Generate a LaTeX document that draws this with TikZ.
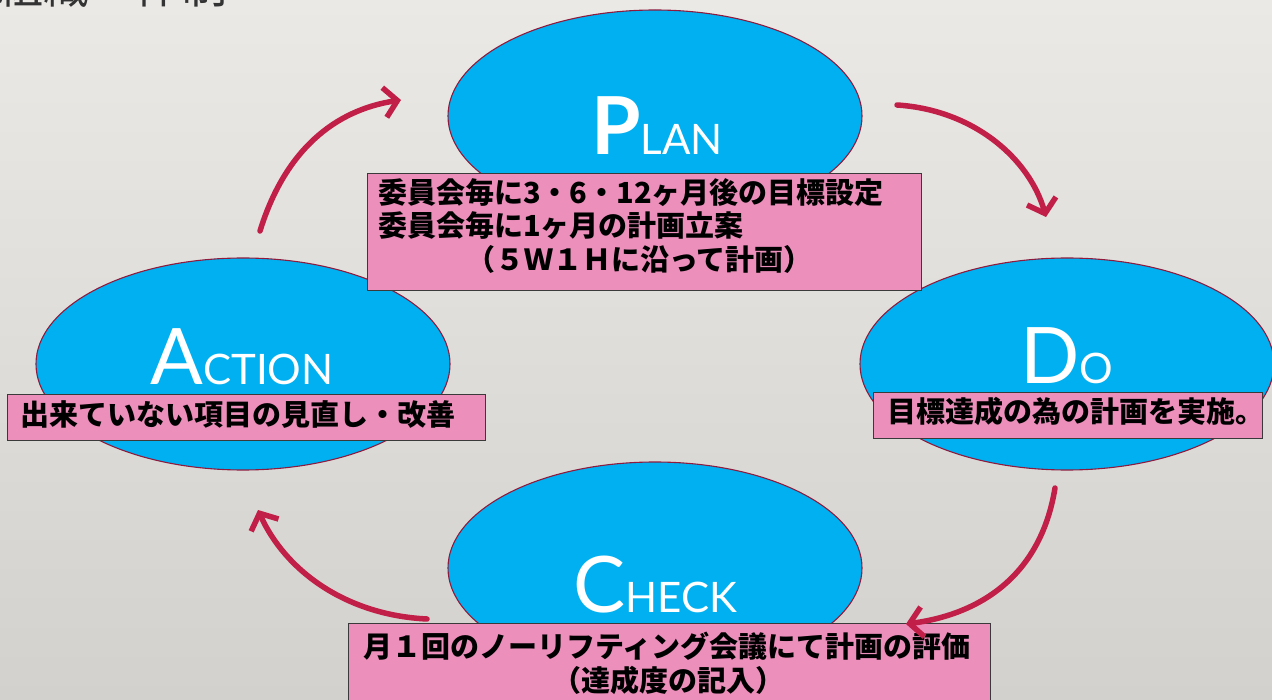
\documentclass[tikz,border=0pt]{standalone}
\usepackage{fontspec}
\usetikzlibrary{shapes.geometric,arrows.meta}
\newfontfamily\jp{Noto Sans CJK JP}
\newfontfamily\lat{Lato}
\definecolor{skyfill}{HTML}{00B0F0}
\definecolor{ringline}{HTML}{8E1B3E}
\definecolor{pinkfill}{HTML}{EC8FBB}
\definecolor{boxline}{HTML}{3A3A3A}
\definecolor{arrowred}{HTML}{C11E48}
\definecolor{bgtop}{HTML}{EBE9E5}
\definecolor{bgbot}{HTML}{D3D1CD}
\tikzset{
  phase/.style={ellipse, fill=skyfill, draw=ringline, line width=1.1pt, minimum width=414pt, minimum height=212pt, inner sep=0pt},
  notebox/.style={fill=pinkfill, draw=boxline, line width=1.3pt, inner sep=0pt, anchor=north west},
  notetext/.style={font=\jp\bfseries\fontsize{29}{33}\selectfont, inner sep=0pt, text=black},
  bigword/.style={text=white, inner sep=0pt, anchor=base},
  cyclearrow/.style={draw=arrowred, line width=5.5pt, line cap=round, -{Straight Barb[length=13pt,width=30pt]}},
}
\begin{document}
\begin{tikzpicture}[x=1pt,y=-1pt]
\useasboundingbox (0,0) rectangle (1272,700);
\clip (0,0) rectangle (1272,700);
\shade[top color=bgtop, bottom color=bgbot] (0,0) rectangle (1272,700);
% cut-off title
\node[anchor=base west, inner sep=0pt, text=black!80, font=\jp\fontsize{46}{46}\selectfont] (title) at (-3,4) {組織・体制};
% phases
\node[phase] (plan) at (655,116) {};
\node[phase] (do) at (1067,364) {};
\node[phase] (action) at (243,364) {};
\node[phase] (check) at (655,568) {};
% big words
\node[bigword] (planw) at (657,155) {\lat\bfseries\fontsize{80}{80}\selectfont P\mdseries\fontsize{42}{42}\selectfont LAN};
\node[bigword] (actionw) at (242,385) {\lat\fontsize{78}{78}\selectfont A\fontsize{42}{42}\selectfont CTION};
\node[bigword] (dow) at (1067,384) {\lat\fontsize{78}{78}\selectfont D\fontsize{42}{42}\selectfont O};
\node[bigword] (checkw) at (655,612) {\lat\fontsize{78}{78}\selectfont C\fontsize{42}{42}\selectfont HECK};
% note boxes
\node[notebox, minimum width=554pt, minimum height=117pt] (planbox) at (367,173) {};
\node[notebox, minimum width=478pt, minimum height=46pt] (actionbox) at (7,394) {};
\node[notebox, minimum width=389pt, minimum height=46pt] (dobox) at (873,392) {};
\node[notebox, minimum width=642pt, minimum height=120pt] (checkbox) at (348,623) {};
% note texts
\node[notetext, anchor=base west] (plan1) at (378,204) {委員会毎に3・6・12ヶ月後の目標設定};
\node[notetext, anchor=base west] (plan2) at (378,237) {委員会毎に1ヶ月の計画立案};
\node[notetext, anchor=base west] (plan3) at (466,271) {（５Ｗ１Ｈに沿って計画）};
\node[notetext, anchor=base west] (action1) at (20,426) {出来ていない項目の見直し・改善};
\node[notetext, anchor=base west] (do1) at (887,423) {目標達成の為の計画を実施。};
\node[notetext, anchor=base] (check1) at (667,657) {月１回のノーリフティング会議にて計画の評価};
\node[notetext, anchor=base] (check2) at (668,691) {（達成度の記入）};
% arrow ends
\coordinate (a1s) at (260,231);
\coordinate (a1e) at (401,100);
\coordinate (a2s) at (897,105);
\coordinate (a2e) at (1046,217);
\coordinate (a3s) at (1055,488);
\coordinate (a3e) at (906,624);
\coordinate (a4s) at (427,619);
\coordinate (a4e) at (258,510);
\draw[cyclearrow] (a1s) .. controls (285,150) and (335,110) .. (a1e);
\draw[cyclearrow] (a2s) .. controls (975,110) and (1030,160) .. (a2e);
\draw[cyclearrow] (a3s) .. controls (1040,580) and (975,615) .. (a3e);
\draw[cyclearrow] (a4s) .. controls (345,615) and (285,570) .. (a4e);
\end{tikzpicture}
\end{document}
